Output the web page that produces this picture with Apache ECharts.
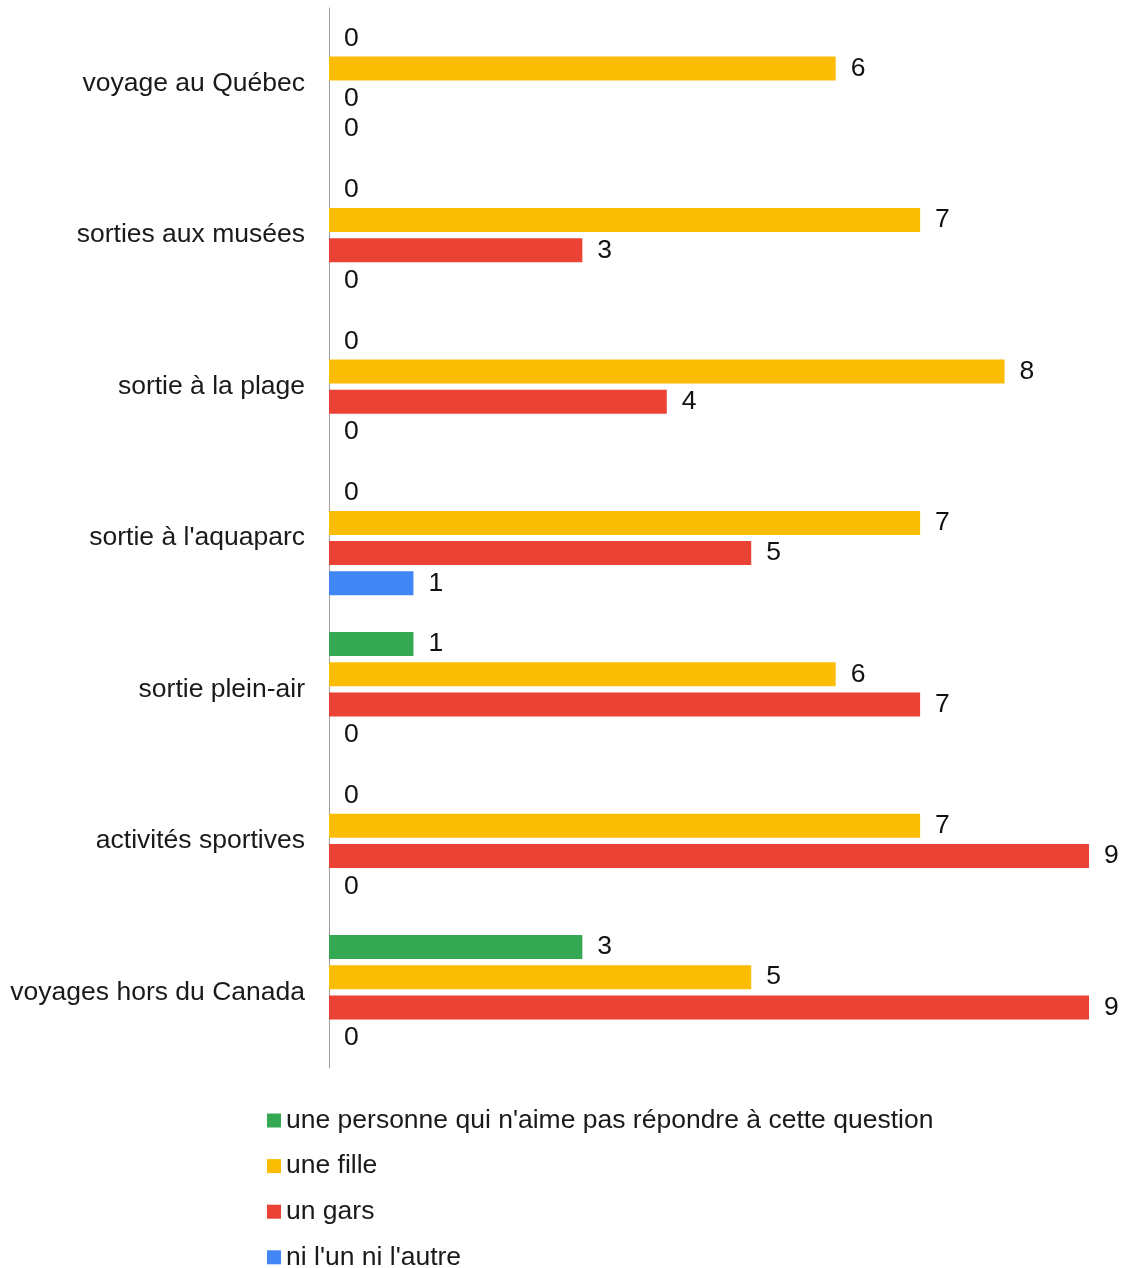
<!DOCTYPE html>
<html>
<head>
<meta charset="utf-8">
<script src="https://cdn.jsdelivr.net/npm/echarts@6/dist/echarts.min.js"></script>
<style>html,body{margin:0;padding:0;background:#fff;}#c{width:1123px;height:1268px;}</style>
</head>
<body>
<div id="c"></div>
<script>
const categories = ["voyage au Québec", "sorties aux musées", "sortie à la plage", "sortie à l'aquaparc", "sortie plein-air", "activités sportives", "voyages hors du Canada"];
const seriesNames = ["une personne qui n'aime pas répondre à cette question", "une fille", "un gars", "ni l'un ni l'autre"];
const personne = [0, 0, 0, 0, 1, 0, 3];
const fille = [6, 7, 8, 7, 6, 7, 5];
const gars = [0, 3, 4, 5, 7, 9, 9];
const niLunNiLautre = [0, 0, 0, 1, 0, 0, 0];
const colors = ["#34A853", "#FBBC04", "#EA4335", "#4285F4"];

const values = [personne, fille, gars, niLunNiLautre];
const FONT = "'Liberation Sans', Arial, sans-serif";
const FS = 26.5;

const chart = echarts.init(document.getElementById('c'), null, {renderer: 'canvas'});
chart.setOption({
  animation: false,
  backgroundColor: '#fff',
  grid: {left: 329, right: 34, top: 8, bottom: 200, containLabel: false},
  xAxis: {
    type: 'value', min: 0, max: 9,
    axisLine: {show: false}, axisTick: {show: false}, axisLabel: {show: false}, splitLine: {show: false}
  },
  yAxis: {
    type: 'category', data: categories, inverse: true,
    axisLine: {show: true, lineStyle: {color: '#9e9e9e', width: 1}},
    axisTick: {show: false},
    axisLabel: {margin: 24, fontSize: FS, color: '#1a1a1a', fontFamily: FONT}
  },
  legend: {
    orient: 'vertical', left: 267, top: 1107, height: 400,
    itemWidth: 14, itemHeight: 14, itemGap: 18.6,
    icon: 'rect', padding: 0,
    data: seriesNames,
    textStyle: {fontSize: FS, color: '#1a1a1a', fontFamily: FONT}
  },
  series: seriesNames.map((name, i) => ({
    name: name,
    type: 'bar',
    data: values[i],
    barWidth: 24,
    barGap: '26%',
    itemStyle: {color: colors[i]},
    label: {show: true, position: 'right', distance: 15, fontSize: FS, color: '#111', fontFamily: FONT}
  }))
});
</script>
</body>
</html>
